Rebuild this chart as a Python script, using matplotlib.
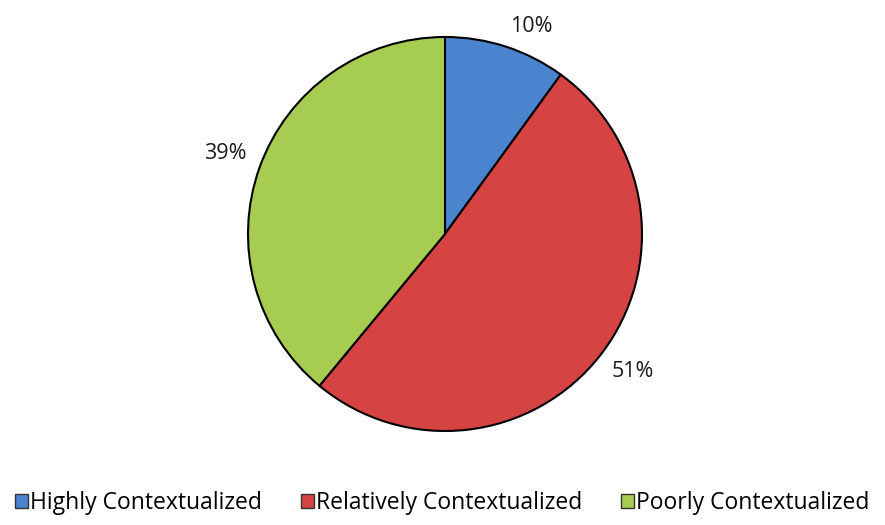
import numpy as np
import matplotlib
matplotlib.use('Agg')
import matplotlib.pyplot as plt
from matplotlib.patches import Patch

labels = ['Highly Contextualized', 'Relatively Contextualized', 'Poorly Contextualized']
shares = [10, 51, 39]
colors = ['#4a84cf', '#d64343', '#a7cc52']

plt.rcParams['font.family'] = ['Open Sans', 'DejaVu Sans']

fig = plt.figure(figsize=(8.85, 5.25), dpi=100)
ax = fig.add_axes([0, 0, 1, 1])

cx, cy, r = 445, 291, 197
wedges, _ = ax.pie(shares, colors=colors, startangle=90, counterclock=False,
                   center=(cx, cy), radius=r, frame=True,
                   wedgeprops=dict(edgecolor='black', linewidth=1.5))

# labels outside the end of each slice, anchored on the corner nearest the pie
for w, s in zip(wedges, shares):
    mid = np.deg2rad((w.theta1 + w.theta2) / 2)
    x = cx + r * 1.07 * np.cos(mid)
    y = cy + r * 1.05 * np.sin(mid)
    ha = 'left' if np.cos(mid) > 0 else 'right'
    va = 'bottom' if np.sin(mid) > 0 else 'top'
    ax.text(x, y, '%d%%' % s, ha=ha, va=va, fontsize=15.5, color='#1a1a1a')

ax.set_xlim(0, 885)
ax.set_ylim(0, 525)
ax.set_aspect('equal')
ax.axis('off')

handles = [Patch(facecolor=c, edgecolor='#333333', linewidth=1) for c in colors]
fig.legend(handles, labels, loc='lower center', bbox_to_anchor=(0.5, -0.012), ncol=3,
           frameon=False, fontsize=16.5, handlelength=0.55, handleheight=0.55,
           handletextpad=0.1, columnspacing=1.7, borderaxespad=0.3)

fig.savefig('out.png', dpi=100)
